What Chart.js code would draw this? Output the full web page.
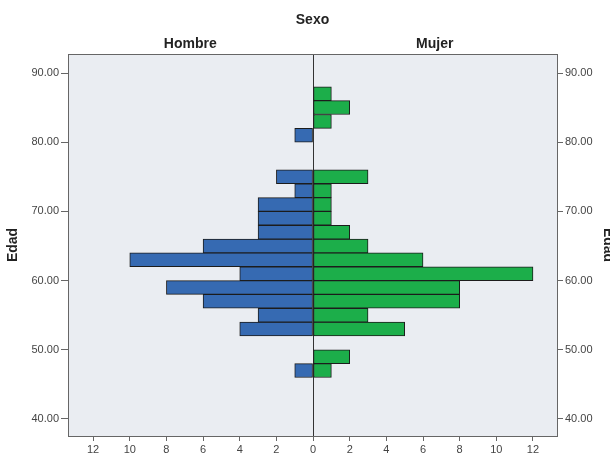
<!DOCTYPE html>
<html>
<head>
<meta charset="utf-8">
<script src="https://cdn.jsdelivr.net/npm/chart.js@4/dist/chart.umd.min.js"></script>
<style>
  html, body { margin: 0; padding: 0; background: #fff; }
  #wrap { width: 610px; height: 457px; }
</style>
</head>
<body>
<div id="wrap"><canvas id="piramide"></canvas></div>
<script>
// Edad: punto medio de cada intervalo de 2 años (46-48 ... 86-88)
const edades = [47, 49, 51, 53, 55, 57, 59, 61, 63, 65, 67, 69, 71, 73, 75, 77, 79, 81, 83, 85, 87];
// Frecuencias por sexo
const hombre = [1, 0, 0, 4, 3, 6, 8, 4, 10, 6, 3, 3, 3, 1, 2, 0, 0, 1, 0, 0, 0];
const mujer  = [1, 2, 0, 5, 3, 8, 8, 12, 6, 3, 2, 1, 1, 1, 3, 0, 0, 0, 1, 2, 1];
// Marcas de los ejes
const ticksEdad = [40, 50, 60, 70, 80, 90];
const ticksFrec = [-12, -10, -8, -6, -4, -2, 0, 2, 4, 6, 8, 10, 12];
const sexos = ['Hombre', 'Mujer'];

const fuente = "'Liberation Sans', Arial, sans-serif";
const gris = '#666';

// fondo gris del área del gráfico
const fondoArea = {
    id: 'fondoArea',
    beforeDraw(chart) {
        const { ctx, chartArea: a } = chart;
        ctx.save();
        ctx.fillStyle = '#eaedf2';
        ctx.fillRect(a.left, a.top, a.right - a.left, a.bottom - a.top);
        ctx.restore();
    }
};

const fijarTicks = lista => scale => { scale.ticks = lista.map(v => ({ value: v })); };

const ctx = document.getElementById('piramide').getContext('2d');
new Chart(ctx, {
    type: 'bar',
    data: {
        datasets: [{
            label: 'Hombre',
            data: edades.map((e, i) => ({ x: hombre[i] ? -hombre[i] : null, y: e })),
            backgroundColor: 'rgb(54,106,178)',
            borderColor: '#1c1c1c',
            borderWidth: 1,
            borderSkipped: false,
            xAxisID: 'x',
            yAxisID: 'y'
        }, {
            label: 'Mujer',
            data: edades.map((e, i) => ({ x: mujer[i] ? mujer[i] : null, y: e })),
            backgroundColor: 'rgb(28,174,74)',
            borderColor: '#1c1c1c',
            borderWidth: 1,
            borderSkipped: false,
            xAxisID: 'x',
            yAxisID: 'y'
        }]
    },
    options: {
        indexAxis: 'y',
        responsive: true,
        maintainAspectRatio: false,
        animation: false,
        layout: { padding: 0 },
        datasets: { bar: { grouped: false, barPercentage: 1, categoryPercentage: 1 } },
        plugins: { legend: { display: false }, title: { display: false } },
        scales: {
            x: {
                type: 'linear',
                position: 'bottom',
                min: -13.37,
                max: 13.31,
                afterBuildTicks: fijarTicks(ticksFrec),
                afterFit: s => { s.height = 21; },
                grid: {
                    drawOnChartArea: true,
                    color: c => (c.tick && c.tick.value === 0 ? '#333' : 'rgba(0,0,0,0)'),
                    tickColor: gris,
                    tickLength: 5
                },
                border: { display: true, color: gris },
                ticks: {
                    padding: 2,
                    color: '#444',
                    font: { family: fuente, size: 11 },
                    callback: v => Math.abs(v)
                }
            },
            xTop: {
                type: 'category',
                position: 'top',
                labels: sexos,
                offset: true,
                afterFit: s => { s.height = 54; },
                grid: { display: false, drawTicks: false },
                border: { display: true, color: gris },
                title: {
                    display: true,
                    text: 'Sexo',
                    color: '#222',
                    font: { family: fuente, size: 14, weight: 'bold' },
                    padding: { top: 12, bottom: 0 }
                },
                ticks: {
                    padding: 1,
                    color: '#222',
                    font: { family: fuente, size: 14, weight: 'bold' }
                }
            },
            y: {
                type: 'linear',
                position: 'left',
                min: 37.54,
                max: 92.75,
                offset: false,
                afterBuildTicks: fijarTicks(ticksEdad),
                afterFit: s => { s.width = 68; },
                grid: { offset: false, drawOnChartArea: false, tickColor: gris, tickLength: 7 },
                border: { display: true, color: gris },
                title: {
                    display: true,
                    text: 'Edad',
                    color: '#222',
                    font: { family: fuente, size: 14, weight: 'bold' },
                    padding: { top: 5, bottom: 0 }
                },
                ticks: {
                    padding: 2,
                    color: '#444',
                    font: { family: fuente, size: 11 },
                    callback: v => v.toFixed(2)
                }
            },
            y2: {
                type: 'linear',
                position: 'right',
                min: 37.54,
                max: 92.75,
                offset: false,
                afterBuildTicks: fijarTicks(ticksEdad),
                afterFit: s => { s.width = 53; },
                grid: { offset: false, drawOnChartArea: false, tickColor: gris, tickLength: 6 },
                border: { display: true, color: gris },
                title: {
                    display: true,
                    text: 'Edad',
                    color: '#222',
                    font: { family: fuente, size: 14, weight: 'bold' },
                    padding: { top: -6, bottom: 0 }
                },
                ticks: {
                    padding: 2,
                    color: '#444',
                    font: { family: fuente, size: 11 },
                    callback: v => v.toFixed(2)
                }
            }
        }
    },
    plugins: [fondoArea]
});
</script>
</body>
</html>
